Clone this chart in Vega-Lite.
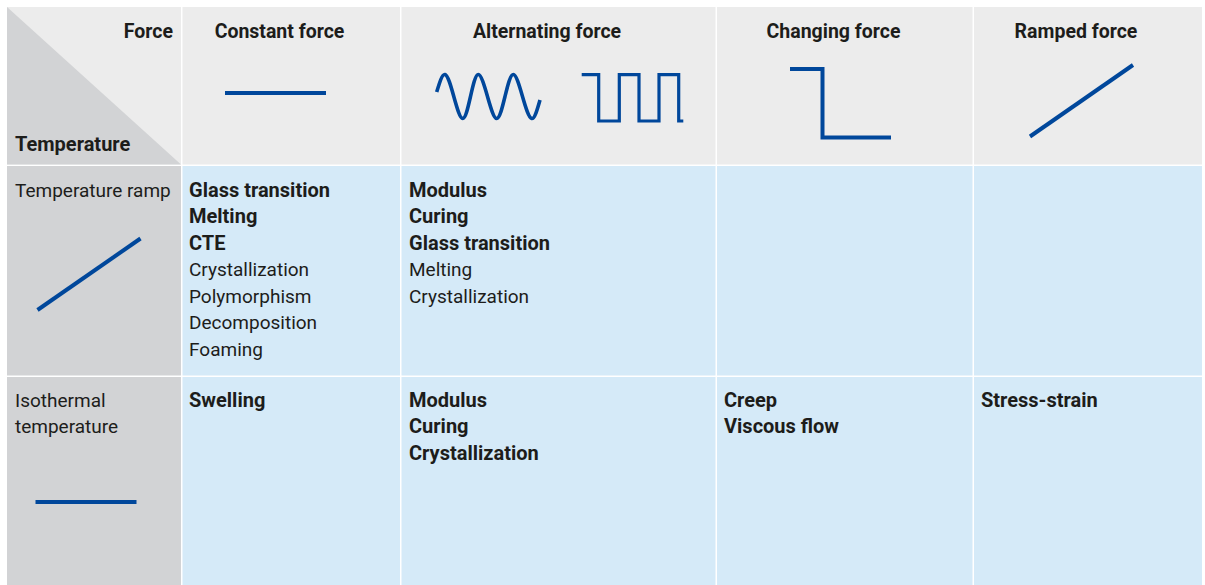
{
  "$schema": "https://vega.github.io/schema/vega-lite/v6.json",
  "autosize": {"type": "fit", "contains": "padding"},
  "width": 1205,
  "height": 585,
  "padding": 0,
  "background": "#ffffff",
  "config": {"view": {"stroke": null}},
  "datasets": {
    "cells": [
      {"x": 7, "x2": 181, "y": 7, "y2": 164.5, "kind": "header"},
      {"x": 182.5, "x2": 400, "y": 7, "y2": 164.5, "kind": "header"},
      {"x": 401.5, "x2": 715.5, "y": 7, "y2": 164.5, "kind": "header"},
      {"x": 717, "x2": 972.5, "y": 7, "y2": 164.5, "kind": "header"},
      {"x": 974, "x2": 1202, "y": 7, "y2": 164.5, "kind": "header"},
      {"x": 7, "x2": 181, "y": 166, "y2": 375.5, "kind": "rowhead"},
      {"x": 182.5, "x2": 400, "y": 166, "y2": 375.5, "kind": "body"},
      {"x": 401.5, "x2": 715.5, "y": 166, "y2": 375.5, "kind": "body"},
      {"x": 717, "x2": 972.5, "y": 166, "y2": 375.5, "kind": "body"},
      {"x": 974, "x2": 1202, "y": 166, "y2": 375.5, "kind": "body"},
      {"x": 7, "x2": 181, "y": 377, "y2": 585, "kind": "rowhead"},
      {"x": 182.5, "x2": 400, "y": 377, "y2": 585, "kind": "body"},
      {"x": 401.5, "x2": 715.5, "y": 377, "y2": 585, "kind": "body"},
      {"x": 717, "x2": 972.5, "y": 377, "y2": 585, "kind": "body"},
      {"x": 974, "x2": 1202, "y": 377, "y2": 585, "kind": "body"}
    ],
    "tri": [
      {"x": 7, "y": 7, "y2": 164.5},
      {"x": 181, "y": 164.5, "y2": 164.5}
    ],
    "straight": [
      {"icon": "const", "i": 0, "x": 225, "y": 93},
      {"icon": "const", "i": 1, "x": 326, "y": 93},
      {"icon": "ramp", "i": 0, "x": 1030, "y": 136.5},
      {"icon": "ramp", "i": 1, "x": 1133, "y": 65},
      {"icon": "step", "i": 0, "x": 790, "y": 69},
      {"icon": "step", "i": 1, "x": 822.5, "y": 69},
      {"icon": "step", "i": 2, "x": 822.5, "y": 137.5},
      {"icon": "step", "i": 3, "x": 891, "y": 137.5},
      {"icon": "tramp", "i": 0, "x": 37.5, "y": 310},
      {"icon": "tramp", "i": 1, "x": 140.5, "y": 238.5},
      {"icon": "iso", "i": 0, "x": 35.5, "y": 502},
      {"icon": "iso", "i": 1, "x": 136.5, "y": 502}
    ],
    "square": [
      {"i": 0, "x": 581.7, "y": 74.7},
      {"i": 1, "x": 598.7, "y": 74.7},
      {"i": 2, "x": 598.7, "y": 121},
      {"i": 3, "x": 619.3, "y": 121},
      {"i": 4, "x": 619.3, "y": 74.7},
      {"i": 5, "x": 639, "y": 74.7},
      {"i": 6, "x": 639, "y": 121},
      {"i": 7, "x": 659, "y": 121},
      {"i": 8, "x": 659, "y": 74.7},
      {"i": 9, "x": 678.7, "y": 74.7},
      {"i": 10, "x": 678.7, "y": 121},
      {"i": 11, "x": 683.3, "y": 121}
    ],
    "sine": [
      {"x": 436.7, "y": 92},
      {"x": 445, "y": 74.5},
      {"x": 453.8, "y": 96.5},
      {"x": 462.7, "y": 118.5},
      {"x": 470.5, "y": 96.5},
      {"x": 478.3, "y": 74.5},
      {"x": 487.5, "y": 96.5},
      {"x": 496.7, "y": 118.5},
      {"x": 505, "y": 96.5},
      {"x": 513.3, "y": 74.5},
      {"x": 522.5, "y": 96.5},
      {"x": 531.7, "y": 118.5},
      {"x": 540, "y": 100}
    ],
    "texts": [
      {"x": 279.5, "y": 37.5, "t": "Constant force", "s": "bc"},
      {"x": 547, "y": 37.5, "t": "Alternating force", "s": "bc"},
      {"x": 833.5, "y": 37.5, "t": "Changing force", "s": "bc"},
      {"x": 1076, "y": 37.5, "t": "Ramped force", "s": "bc"},
      {"x": 173, "y": 37.5, "t": "Force", "s": "br"},
      {"x": 15, "y": 151, "t": "Temperature", "s": "bl"},
      {"x": 15, "y": 196.5, "t": "Temperature ramp", "s": "rl"},
      {"x": 15, "y": 406.5, "t": "Isothermal", "s": "rl"},
      {"x": 15, "y": 433, "t": "temperature", "s": "rl"},
      {"x": 189, "y": 196.5, "t": "Glass transition", "s": "bl"},
      {"x": 189, "y": 223, "t": "Melting", "s": "bl"},
      {"x": 189, "y": 249.5, "t": "CTE", "s": "bl"},
      {"x": 189, "y": 276, "t": "Crystallization", "s": "rl"},
      {"x": 189, "y": 302.5, "t": "Polymorphism", "s": "rl"},
      {"x": 189, "y": 329, "t": "Decomposition", "s": "rl"},
      {"x": 189, "y": 355.5, "t": "Foaming", "s": "rl"},
      {"x": 409, "y": 196.5, "t": "Modulus", "s": "bl"},
      {"x": 409, "y": 223, "t": "Curing", "s": "bl"},
      {"x": 409, "y": 249.5, "t": "Glass transition", "s": "bl"},
      {"x": 409, "y": 276, "t": "Melting", "s": "rl"},
      {"x": 409, "y": 302.5, "t": "Crystallization", "s": "rl"},
      {"x": 189, "y": 406.5, "t": "Swelling", "s": "bl"},
      {"x": 409, "y": 406.5, "t": "Modulus", "s": "bl"},
      {"x": 409, "y": 433, "t": "Curing", "s": "bl"},
      {"x": 409, "y": 459.5, "t": "Crystallization", "s": "bl"},
      {"x": 724, "y": 406.5, "t": "Creep", "s": "bl"},
      {"x": 724, "y": 433, "t": "Viscous flow", "s": "bl"},
      {"x": 981, "y": 406.5, "t": "Stress-strain", "s": "bl"}
    ]
  },
  "layer": [
    {
      "data": {"name": "cells"},
      "mark": {"type": "rect"},
      "encoding": {
        "x": {"field": "x", "type": "quantitative", "scale": {"domain": [0, 1205], "nice": false, "zero": false}, "axis": null},
        "x2": {"field": "x2"},
        "y": {"field": "y", "type": "quantitative", "scale": {"domain": [0, 585], "nice": false, "zero": false, "reverse": true}, "axis": null},
        "y2": {"field": "y2"},
        "color": {"field": "kind", "type": "nominal", "scale": {"domain": ["header", "rowhead", "body"], "range": ["#ececec", "#d2d3d5", "#d5eaf8"]}, "legend": null}
      }
    },
    {
      "data": {"name": "tri"},
      "mark": {"type": "area", "color": "#d2d3d5", "opacity": 1},
      "encoding": {
        "x": {"field": "x", "type": "quantitative"},
        "y": {"field": "y", "type": "quantitative"},
        "y2": {"field": "y2"}
      }
    },
    {
      "data": {"name": "straight"},
      "mark": {"type": "line", "color": "#00479b", "strokeWidth": 4, "strokeCap": "butt"},
      "encoding": {
        "x": {"field": "x", "type": "quantitative"},
        "y": {"field": "y", "type": "quantitative"},
        "detail": {"field": "icon", "type": "nominal"},
        "order": {"field": "i", "type": "quantitative"}
      }
    },
    {
      "data": {"name": "square"},
      "mark": {"type": "line", "color": "#00479b", "strokeWidth": 3.2, "strokeCap": "butt", "strokeJoin": "miter"},
      "encoding": {
        "x": {"field": "x", "type": "quantitative"},
        "y": {"field": "y", "type": "quantitative"},
        "order": {"field": "i", "type": "quantitative"}
      }
    },
    {
      "data": {"name": "sine"},
      "mark": {"type": "line", "color": "#00479b", "strokeWidth": 3.6, "strokeCap": "butt", "interpolate": "natural"},
      "encoding": {
        "x": {"field": "x", "type": "quantitative"},
        "y": {"field": "y", "type": "quantitative"}
      }
    },
    {
      "data": {"name": "texts"},
      "transform": [{"filter": "datum.s === 'bc'"}],
      "mark": {"type": "text", "font": "Roboto", "fontWeight": "bold", "fontSize": 19.5, "align": "center", "baseline": "alphabetic", "color": "#1d1d1b"},
      "encoding": {
        "x": {"field": "x", "type": "quantitative"},
        "y": {"field": "y", "type": "quantitative"},
        "text": {"field": "t"}
      }
    },
    {
      "data": {"name": "texts"},
      "transform": [{"filter": "datum.s === 'br'"}],
      "mark": {"type": "text", "font": "Roboto", "fontWeight": "bold", "fontSize": 19.5, "align": "right", "baseline": "alphabetic", "color": "#1d1d1b"},
      "encoding": {
        "x": {"field": "x", "type": "quantitative"},
        "y": {"field": "y", "type": "quantitative"},
        "text": {"field": "t"}
      }
    },
    {
      "data": {"name": "texts"},
      "transform": [{"filter": "datum.s === 'bl'"}],
      "mark": {"type": "text", "font": "Roboto", "fontWeight": "bold", "fontSize": 20, "align": "left", "baseline": "alphabetic", "color": "#1d1d1b"},
      "encoding": {
        "x": {"field": "x", "type": "quantitative"},
        "y": {"field": "y", "type": "quantitative"},
        "text": {"field": "t"}
      }
    },
    {
      "data": {"name": "texts"},
      "transform": [{"filter": "datum.s === 'rl'"}],
      "mark": {"type": "text", "font": "Roboto", "fontWeight": "normal", "fontSize": 19, "align": "left", "baseline": "alphabetic", "color": "#1d1d1b"},
      "encoding": {
        "x": {"field": "x", "type": "quantitative"},
        "y": {"field": "y", "type": "quantitative"},
        "text": {"field": "t"}
      }
    }
  ]
}
